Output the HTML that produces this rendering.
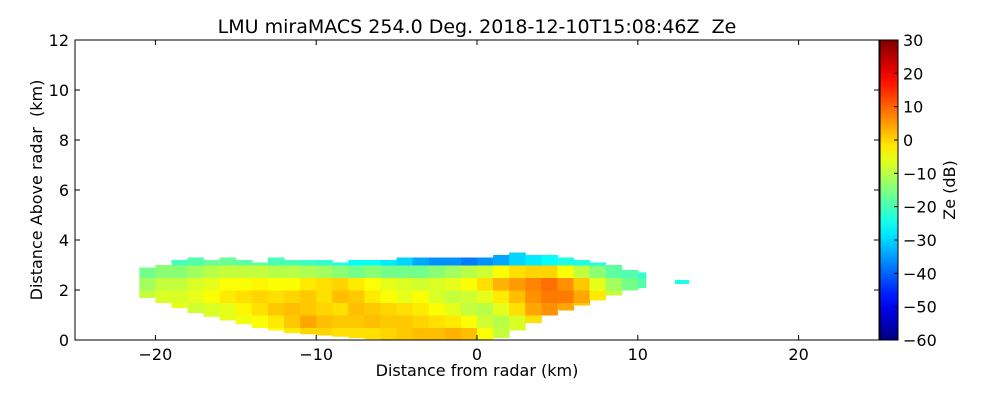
<!DOCTYPE html>
<html><head><meta charset="utf-8"><style>
body{margin:0;background:#fff;width:1000px;height:400px;overflow:hidden}
text{font-family:"DejaVu Sans","Liberation Sans",sans-serif;fill:#000}
</style></head><body>
<svg id="chart" width="1000" height="400" xmlns="http://www.w3.org/2000/svg">
<defs><linearGradient id="jetGrad" x1="0" y1="1" x2="0" y2="0"></linearGradient></defs>
<g id="cells"></g>
<g id="axes"></g>
</svg>
<script>
// data
const xTicks=[-20,-10,0,10,20];
const yTicks=[0,2,4,6,8,10,12];
const cbTicks=[-60,-50,-40,-30,-20,-10,0,10,20,30];
const colLeft=[-21,-20,-19,-18,-17,-16,-15,-14,-13,-12,-11,-10,-9,-8,-7,-6,-5,-4,-3,-2,-1,0,1,2,3,4,5,6,7,8,9,10];
const colBottom=[1.7,1.5,1.3,1.1,0.95,0.8,0.65,0.5,0.4,0.3,0.25,0.2,0.15,0.1,0.05,0.02,0,0,0,0,0,0,0.1,0.4,0.7,1.0,1.2,1.4,1.6,1.8,2.0,2.1];
const colTop=[2.9,3.0,3.2,3.3,3.2,3.3,3.2,3.1,3.3,3.2,3.2,3.2,3.1,3.2,3.2,3.2,3.3,3.3,3.3,3.3,3.3,3.3,3.4,3.5,3.4,3.4,3.3,3.2,3.1,3.0,2.8,2.7];
const rowBase=[0,0.5,1,1.5,2,2.5,3];
const ze=[
[-4,-4,-4,-9,-12,-16,-20],[-4,-4,-6,-7,-9,-14,-20],[-4,-4,-6,-7,-9,-14,-20],[-4,-4,-8,-6,-7,-12,-19],
[-4,-7,-7,-4,-6,-10,-17],[-4,-6,-6,-2,-4,-9,-17],[-5,-5,-3,-1,-4,-9,-18],[-6,-4,-1,0,-3,-9,-18],
[-4,-2,1,-1,-4,-10,-20],[-2,1,2,0,-4,-10,-20],[0,4,1,1,-2,-11,-21],[0,2,0,-1,-1,-12,-22],
[-1,1,-1,2,0,-14,-24],[-1,1,2,1,-2,-16,-26],[-1,2,1,-2,-4,-14,-26],[0,1,0,-4,-6,-16,-28],
[1,1,-1,-6,-7,-16,-30],[2,0,-2,-4,-8,-16,-34],[2,-1,-4,-7,-7,-14,-36],[3,-2,-6,-9,-6,-12,-36],
[2,-4,-9,-8,-4,-10,-38],[-4,-8,-10,-6,-1,-8,-36],[-9,-10,-6,-2,3,-4,-34],[-7,-7,-1,2,5,-1,-30],
[-1,-1,4,6,7,0,-28],[2,2,6,8,9,0,-26],[4,4,4,8,6,-4,-24],[1,1,1,4,1,-9,-24],
[-4,-4,-4,-2,-6,-14,-24],[-9,-9,-9,-9,-12,-18,-26],[-12,-12,-12,-14,-16,-19,-28],[-16,-16,-16,-18,-19,-22,-28]];
const fragment={x0:12.3,x1:13.2,h:2.3,v:-24};

const L=75,R=879,T=40,B=340;
const xS=v=>L+(v+25)/50*(R-L);
const yS=v=>B-v/12*(B-T);
const cbT=40,cbB=340,cbL=880,cbR=898;
const cS=v=>cbB-(v+60)/90*(cbB-cbT);
function jet(v){let t=(v+60)/90;t=Math.max(0,Math.min(1,t));
 const f=x=>Math.max(0,Math.min(1,1.5-Math.abs(4*t-x)));
 return `rgb(${Math.round(255*f(3))},${Math.round(255*f(2))},${Math.round(255*f(1))})`;}
const NS="http://www.w3.org/2000/svg";
function mk(tag,attrs,parent){const e=document.createElementNS(NS,tag);for(const k in attrs)e.setAttribute(k,attrs[k]);parent.appendChild(e);return e;}
const cells=document.getElementById('cells'),axes=document.getElementById('axes');
colLeft.forEach((x0,i)=>{
 const x1=i===colLeft.length-1?10.5:x0+1;
 rowBase.forEach((h0,j)=>{
  const lo=Math.max(h0,colBottom[i]),hi=Math.min(h0+0.5,colTop[i]);
  if(hi<=lo)return;
  const r=mk('rect',{x:xS(x0),y:yS(hi),width:xS(x1)-xS(x0)+0.5,height:yS(lo)-yS(hi)+0.5,fill:jet(ze[i][j])},cells);
  
  
 });
});
const fr=mk('rect',{x:xS(fragment.x0),y:yS(fragment.h+0.1),width:xS(fragment.x1)-xS(fragment.x0),height:4,fill:jet(fragment.v)},cells);


const fb=mk('rect',{x:L,y:T,width:R-L,height:B-T,fill:'none',stroke:'#000','stroke-width':1},axes);


xTicks.forEach(v=>{const x=xS(v);
 mk('line',{x1:x,x2:x,y1:B,y2:B-5,stroke:'#000'},axes);mk('line',{x1:x,x2:x,y1:T,y2:T+5,stroke:'#000'},axes);
 const t=mk('text',{x:x,y:B+20,'text-anchor':'middle','font-size':16},axes);t.textContent=(v<0?'\u2212':'')+Math.abs(v);
 
 });
yTicks.forEach(v=>{const y=yS(v);
 mk('line',{x1:L,x2:L+5,y1:y,y2:y,stroke:'#000'},axes);mk('line',{x1:R,x2:R-5,y1:y,y2:y,stroke:'#000'},axes);
 const t=mk('text',{x:L-6,y:y+6,'text-anchor':'end','font-size':16},axes);t.textContent=v;
 
 });
const g=document.getElementById('jetGrad');
for(let k=0;k<=20;k++){const v=-60+90*k/20;mk('stop',{offset:k/20,'stop-color':jet(v)},g);}
const cb=mk('rect',{x:cbL,y:cbT,width:cbR-cbL,height:cbB-cbT,fill:'url(#jetGrad)',stroke:'#000'},axes);


cbTicks.forEach(v=>{const y=cS(v);
 mk('line',{x1:cbR-4,x2:cbR,y1:y,y2:y,stroke:'#000'},axes);
 const t=mk('text',{x:cbR+5,y:y+6,'font-size':16},axes);t.textContent=(v<0?'\u2212':'')+Math.abs(v);
 
 });
</script>
<svg style="position:absolute;left:0;top:0" width="1000" height="400">
<text x="477" y="33" text-anchor="middle" font-size="19" xml:space="preserve">LMU miraMACS 254.0 Deg. 2018-12-10T15:08:46Z  Ze</text>
<text x="477" y="376" text-anchor="middle" font-size="16">Distance from radar (km)</text>
<text transform="translate(42,190) rotate(-90)" text-anchor="middle" font-size="16" xml:space="preserve">Distance Above radar  (km)</text>
<text transform="translate(955,190) rotate(-90)" text-anchor="middle" font-size="16">Ze (dB)</text>
</svg>
</body></html>
